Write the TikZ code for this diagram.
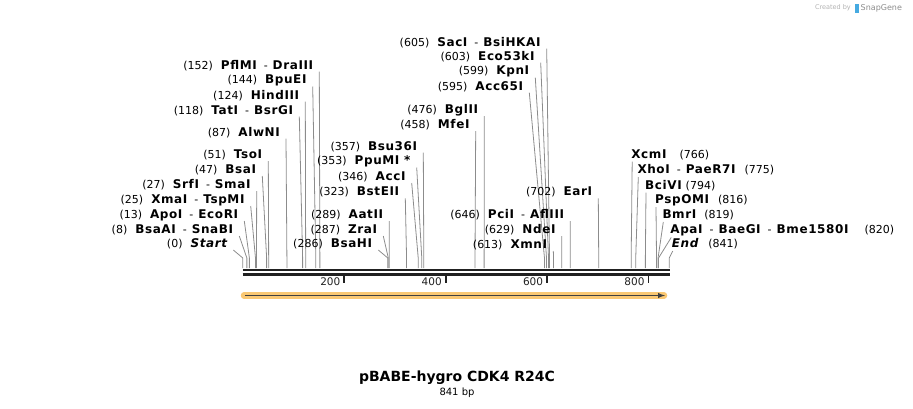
\documentclass[tikz,border=0pt]{standalone}
\usepackage{fontspec}
\setmainfont{DejaVu Sans}
\newfontfamily\enzfont{DejaVu Sans}[LetterSpace=5.0]
\usetikzlibrary{arrows}
\usetikzlibrary{calc}
\definecolor{cutgray}{rgb}{0.55,0.55,0.55}
\definecolor{featorange}{RGB}{250,200,115}
\definecolor{axisblack}{rgb}{0.13,0.13,0.13}
\definecolor{sgblue}{RGB}{70,170,225}
% site position on the sequence line (0 bp at the left end)
\newcommand{\bpx}[1]{242.8+0.507*#1}
\newcommand{\enz}[1]{{\enzfont\fontsize{12}{13}\selectfont\bfseries #1}}
\newcommand{\lgap}{\hspace{8pt}}
\newcommand{\lsep}{\hspace{7pt}-\hspace{5pt}}
% label on the left of its line
\newcommand{\siteL}[4]{%
  \coordinate (t#1) at (#2);
  \coordinate (s#1) at ({\bpx{#3}},268);
  \node[lbl, anchor=east] (n#1) at ([xshift=-6pt,yshift=6pt]t#1) {#4};
  \draw[cut] (t#1) -- ([yshift=10pt]s#1) -- (s#1);
}
% label on the right of its line
\newcommand{\siteR}[4]{%
  \coordinate (t#1) at (#2);
  \coordinate (s#1) at ({\bpx{#3}},268);
  \node[lbl, anchor=west] (n#1) at ([xshift=-1pt,yshift=7pt]t#1) {#4};
  \draw[cut] (t#1) -- ([yshift=10pt]s#1) -- (s#1);
}

\begin{document}
\begin{tikzpicture}[x=1pt, y=-1pt, >=latex,
    lbl/.style={inner sep=0pt, font=\fontsize{11}{13}\selectfont},
    cut/.style={color=cutgray, line width=0.8pt},
    tick/.style={inner sep=0pt, font=\fontsize{10.5}{12}\selectfont, anchor=east}]
  \useasboundingbox (0,0) rectangle (913,408);

  % Enzymes left of the first block
  \siteL{Start}{233.3,250}{0}{(0)\lgap\enz{\itshape Start}}
  \siteL{BsaAI}{239.3,236}{8}{(8)\lgap\enz{BsaAI}\lsep\enz{SnaBI}}
  \siteL{ApoI}{244.3,221}{13}{(13)\lgap\enz{ApoI}\lsep\enz{EcoRI}}
  \siteL{XmaI}{250.7,206}{25}{(25)\lgap\enz{XmaI}\lsep\enz{TspMI}}
  \siteL{SrfI}{256.7,191}{27}{(27)\lgap\enz{SrfI}\lsep\enz{SmaI}}
  \siteL{BsaI}{262.3,176}{47}{(47)\lgap\enz{BsaI}}
  \siteL{TsoI}{268.3,161}{51}{(51)\lgap\enz{TsoI}}
  \siteL{AlwNI}{286,138.5}{87}{(87)\lgap\enz{AlwNI}}
  \siteL{TatI}{299.3,116.5}{118}{(118)\lgap\enz{TatI}\lsep\enz{BsrGI}}
  \siteL{HindIII}{305.3,101.5}{124}{(124)\lgap\enz{HindIII}}
  \siteL{BpuEI}{312.7,86.5}{144}{(144)\lgap\enz{BpuEI}}
  \siteL{PflMI}{319.3,71.5}{152}{(152)\lgap\enz{PflMI}\lsep\enz{DraIII}}

  % Middle block
  \siteL{BsaHI}{378.3,250}{286}{(286)\lgap\enz{BsaHI}}
  \siteL{ZraI}{383.3,236}{287}{(287)\lgap\enz{ZraI}}
  \siteL{AatII}{389.3,221}{289}{(289)\lgap\enz{AatII}}
  \siteL{BstEII}{405.3,198.3}{323}{(323)\lgap\enz{BstEII}}
  \siteL{AccI}{411.7,183}{346}{(346)\lgap\enz{AccI}}
  \siteL{PpuMI}{416.7,167.5}{353}{(353)\lgap\enz{PpuMI *}}
  \siteL{Bsu36I}{423.3,152.5}{357}{(357)\lgap\enz{Bsu36I}}
  \siteL{MfeI}{475.7,131}{458}{(458)\lgap\enz{MfeI}}
  \siteL{BglII}{484.3,116}{476}{(476)\lgap\enz{BglII}}
  \siteL{Acc65I}{529.3,92.7}{595}{(595)\lgap\enz{Acc65I}}
  \siteL{KpnI}{535.3,77.7}{599}{(599)\lgap\enz{KpnI}}
  \siteL{Eco53kI}{540.7,62.7}{603}{(603)\lgap\enz{Eco53kI}}
  \siteL{SacI}{546.7,48.7}{605}{(605)\lgap\enz{SacI}\lsep\enz{BsiHKAI}}
  \siteL{XmnI}{553.3,251}{613}{(613)\lgap\enz{XmnI}}
  \siteL{NdeI}{561.7,236}{629}{(629)\lgap\enz{NdeI}}
  \siteL{PciI}{570.3,221}{646}{(646)\lgap\enz{PciI}\lsep\enz{AflIII}}
  \siteL{EarI}{598.3,198.3}{702}{(702)\lgap\enz{EarI}}

  % Enzymes right of the last block
  \siteR{XcmI}{632.2,161.5}{766}{\enz{XcmI}\hspace{13pt}(766)}
  \siteR{XhoI}{638.3,177}{775}{\enz{XhoI}\lsep\enz{PaeR7I}\hspace{9pt}(775)}
  \siteR{BciVI}{646,192.5}{794}{\enz{BciVI}\hspace{4pt}(794)}
  \siteR{PspOMI}{656,207}{816}{\enz{PspOMI}\hspace{9pt}(816)}
  \siteR{BmrI}{663.3,222}{819}{\enz{BmrI}\hspace{8pt}(819)}
  \siteR{ApaI}{671.2,237.5}{820}{\enz{ApaI}\lsep\enz{BaeGI}\lsep\enz{Bme1580I}\hspace{16pt}(820)}
  \siteR{End}{672.7,251}{841}{\enz{\itshape End}\hspace{10pt}(841)}

  % Sequence line and ruler
  \draw[line width=2.3pt, color=axisblack] (242.5,270.2) -- (670,270.2);
  \draw[line width=3pt, color=axisblack] (242.5,274.2) -- (670,274.2);
  \draw[line width=1.8pt, color=axisblack] ({\bpx{200}},276) -- ({\bpx{200}},283) node[tick, xshift=-3pt, yshift=1pt] (r200) {200};
  \draw[line width=1.8pt, color=axisblack] ({\bpx{400}},276) -- ({\bpx{400}},283) node[tick, xshift=-3pt, yshift=1pt] (r400) {400};
  \draw[line width=1.8pt, color=axisblack] ({\bpx{600}},276) -- ({\bpx{600}},283) node[tick, xshift=-3pt, yshift=1pt] (r600) {600};
  \draw[line width=1.8pt, color=axisblack] ({\bpx{800}},276) -- ({\bpx{800}},283) node[tick, xshift=-3pt, yshift=1pt] (r800) {800};

  % Feature arrow
  \draw[line width=6.5pt, color=featorange, line cap=round] (244,295.5) -- (664,295.5);
  \draw[->, line width=1.4pt, color=black!75] (245,295.5) -- (665,295.5);

  % Title
  \node[inner sep=0pt, font=\bfseries\fontsize{14}{16}\selectfont] (title) at (457,378) {pBABE-hygro CDK4 R24C};
  \node[inner sep=0pt, font=\fontsize{10}{12}\selectfont] (length) at (457,392.5) {841 bp};

  % SnapGene mark
  \node[inner sep=0pt, anchor=east, font=\fontsize{6.5}{8}\selectfont, color=black!30] (created) at (851,8) {Created by};
  \fill[sgblue] (855,3.5) rectangle (858.5,12.5);
  \node[inner sep=0pt, anchor=west, font=\fontsize{8}{9}\selectfont, color=black!45] (snapgene) at (860.5,8) {SnapGene};
\end{tikzpicture}
\end{document}
